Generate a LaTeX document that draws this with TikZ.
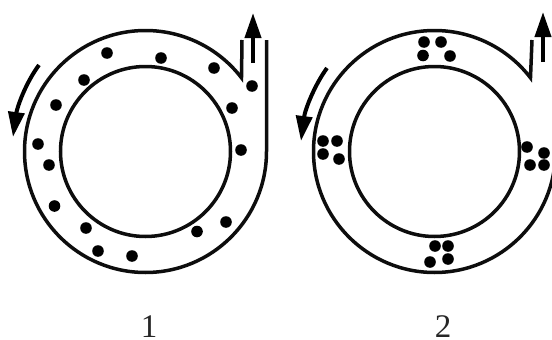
\documentclass[tikz,border=0pt]{standalone}
\usepackage{fontspec}
\setmainfont{Liberation Serif}
\usetikzlibrary{arrows.meta}
\tikzset{
  wall/.style={line width=3.5pt,line join=miter,black!95},
  flowarrow/.style={line width=4pt,-{Triangle[length=25pt,width=16pt]}},
  lab/.style={font=\fontsize{33}{33}\selectfont,text=black!85,inner sep=0pt}
}
\begin{document}
\begin{tikzpicture}[x=1pt,y=-1pt]
\useasboundingbox (0,0) rectangle (552,340);
% pump 1
\draw[wall] (145.5,151.5) circle[radius=85pt];
\draw[wall] (266.5,40) -- (266.5,151.5) arc[start angle=0,end angle=-322.5,radius=121pt] -- (242,40);
\draw[flowarrow] (253,63) -- (253,13);
\draw[flowarrow] (39,65) .. controls (25,84) and (17,108) .. (13,137);
\foreach \p in {(107,53),(161,58),(214,68),(84,80),(56,105),(252,86),(232,108),(241,150),(38,144),(49,165),(54.5,206),(86,228),(98,251),(132,256),(197,231.5),(226,222)}
  \fill \p circle[radius=5.8pt];
\node[lab] (n1) at (149,327) {1};
% pump 2
\draw[wall] (434.5,151.5) circle[radius=85pt];
\begin{scope}
\clip (300,0) rectangle (552,340);
\draw[wall] (555.5,40) -- (555.5,151.5) arc[start angle=0,end angle=-322.5,radius=121pt] -- (532,40);
\end{scope}
\draw[flowarrow] (543,62) -- (543,12);
\draw[flowarrow] (327,68) .. controls (314,86) and (305,110) .. (301,141);
\foreach \p in {(424,42),(441,42),(423,55.5),(450,56),(323,141),(337,141),(323,154),(339,159),(527,147),(544,153),(530,165),(544,165),(435,246),(448,246),(430,262),(448,259)}
  \fill \p circle[radius=5.8pt];
\node[lab] (n2) at (443,327) {2};
\end{tikzpicture}
\end{document}
